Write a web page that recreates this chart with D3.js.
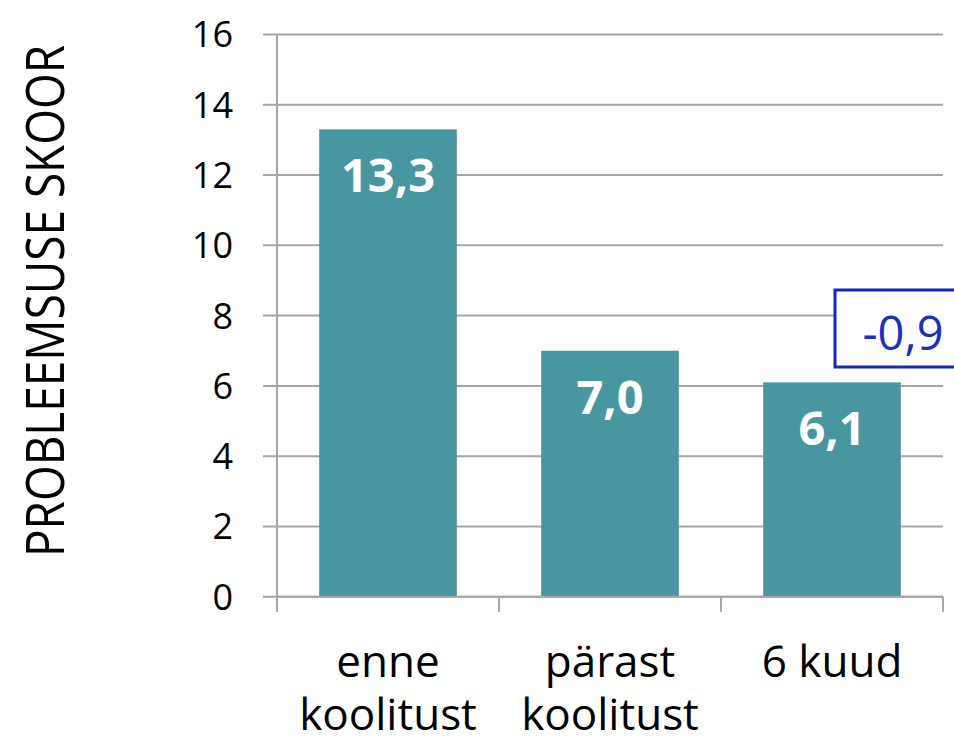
<!DOCTYPE html>
<html>
<head>
<meta charset="utf-8">
<script src="https://cdn.jsdelivr.net/npm/d3@7"></script>
<style>
  html, body { margin: 0; padding: 0; background: #fff; }
  svg text { font-family: "Open Sans", "Noto Sans", sans-serif; }
</style>
</head>
<body>
<svg id="chart" width="954" height="742"></svg>
<script>
// problem score before / after training
const categories = [['enne', 'koolitust'], ['pärast', 'koolitust'], ['6 kuud']];
const scores = [13.3, 7.0, 6.1];
const yTicks = [0, 2, 4, 6, 8, 10, 12, 14, 16];
const changeLabel = '-0,9';

const svg = d3.select('#chart');

const plotLeft = 277, plotRight = 943, plotTop = 34.5, plotBottom = 596.7;

const xScale = d3.scaleBand()
  .domain(d3.range(scores.length))
  .range([plotLeft, plotRight])
  .paddingInner(0.38)
  .paddingOuter(0.19);

const yScale = d3.scaleLinear()
  .domain([0, 16])
  .range([plotBottom, plotTop]);

const fmt = (v) => v.toFixed(1).replace('.', ',');

// gridlines
svg.append('g')
  .selectAll('line')
  .data(yTicks)
  .join('line')
  .attr('x1', plotLeft - 14)
  .attr('x2', plotRight)
  .attr('y1', (d) => yScale(d))
  .attr('y2', (d) => yScale(d))
  .attr('stroke', '#a6a6a6')
  .attr('stroke-width', 2);

// y axis line
svg.append('line')
  .attr('x1', plotLeft).attr('x2', plotLeft)
  .attr('y1', plotTop).attr('y2', plotBottom + 15)
  .attr('stroke', '#a6a6a6')
  .attr('stroke-width', 2);

// tick labels
svg.append('g')
  .selectAll('text')
  .data(yTicks)
  .join('text')
  .attr('x', 233)
  .attr('y', (d) => yScale(d))
  .attr('dy', '0.36em')
  .attr('text-anchor', 'end')
  .attr('font-size', 36)
  .attr('fill', '#000')
  .text((d) => d);

// category separators
const step = xScale.step();
svg.append('g')
  .selectAll('line')
  .data(d3.range(1, scores.length + 1))
  .join('line')
  .attr('x1', (i) => plotLeft + i * step)
  .attr('x2', (i) => plotLeft + i * step)
  .attr('y1', plotBottom)
  .attr('y2', plotBottom + 15)
  .attr('stroke', '#a6a6a6')
  .attr('stroke-width', 2);

// bars
svg.append('g')
  .selectAll('rect')
  .data(scores)
  .join('rect')
  .attr('x', (d, i) => xScale(i))
  .attr('y', (d) => yScale(d))
  .attr('width', xScale.bandwidth())
  .attr('height', (d) => plotBottom - yScale(d))
  .attr('fill', '#4897a0');

// redraw baseline over bars
svg.append('line')
  .attr('x1', plotLeft).attr('x2', plotRight)
  .attr('y1', plotBottom).attr('y2', plotBottom)
  .attr('stroke', '#a6a6a6')
  .attr('stroke-width', 2);

// value labels inside bars
svg.append('g')
  .selectAll('text')
  .data(scores)
  .join('text')
  .attr('x', (d, i) => xScale(i) + xScale.bandwidth() / 2)
  .attr('y', (d) => yScale(d) + 63)
  .attr('text-anchor', 'middle')
  .attr('font-size', 47)
  .attr('font-weight', 'bold')
  .attr('fill', '#fff')
  .text((d) => fmt(d));

// category labels
const catG = svg.append('g');
categories.forEach((lines, i) => {
  const cx = xScale(i) + xScale.bandwidth() / 2;
  const t = catG.append('text')
    .attr('x', cx)
    .attr('y', 677)
    .attr('text-anchor', 'middle')
    .attr('font-size', 44)
    .attr('fill', '#000');
  lines.forEach((l, j) => {
    t.append('tspan')
      .attr('x', cx)
      .attr('dy', j === 0 ? 0 : 53)
      .text(l);
  });
});

// change box above last bar
svg.append('rect')
  .attr('x', 835)
  .attr('y', 290)
  .attr('width', 140)
  .attr('height', 77)
  .attr('fill', '#fff')
  .attr('stroke', '#1428c4')
  .attr('stroke-width', 3);
svg.append('text')
  .attr('x', 903)
  .attr('y', 350)
  .attr('text-anchor', 'middle')
  .attr('font-size', 47)
  .attr('fill', '#1a30bf')
  .text(changeLabel);

// y title
svg.append('text')
  .attr('transform', 'translate(64, 301) rotate(-90)')
  .attr('text-anchor', 'middle')
  .attr('font-size', 53)
  .attr('textLength', 512)
  .attr('lengthAdjust', 'spacingAndGlyphs')
  .attr('fill', '#000')
  .text('PROBLEEMSUSE SKOOR');
</script>
</body>
</html>
